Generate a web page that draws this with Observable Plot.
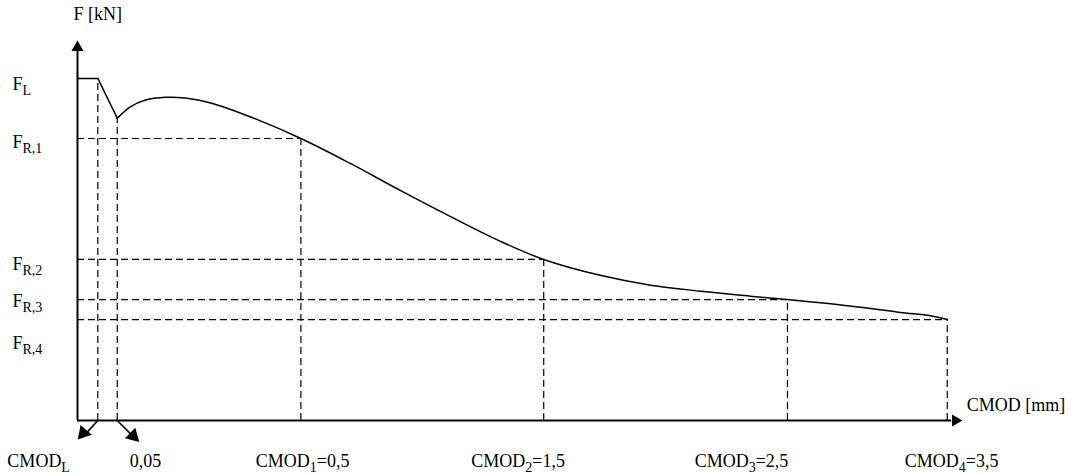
<!DOCTYPE html>
<html>
<head>
<meta charset="utf-8">
<script src="https://cdn.jsdelivr.net/npm/d3@7"></script>
<script src="https://cdn.jsdelivr.net/npm/@observablehq/plot@0.6"></script>
<style>
  html, body { margin: 0; padding: 0; background: white; }
  svg { display: block; }
  svg text { font-family: "Liberation Serif", "Times New Roman", serif !important; }
</style>
</head>
<body>
<div id="chart"></div>
<script>
// Schematic load–CMOD curve (abstract units 0..100 on both axes)
const curveX = [0, 2.3, 4.5, 6.0, 7.7, 10.0, 12.2, 15.1, 19.6, 25.3, 30.9, 36.6, 42.2, 47.9, 52.8, 59.2, 64.9, 70.6, 76.2, 80.4, 87.5, 93.2, 96.6, 98.5];
const curveY = [90.5, 90.5, 80.0, 83.0, 84.8, 85.5, 85.3, 84.0, 80.3, 74.6, 68.0, 60.8, 54.0, 47.4, 42.6, 38.4, 35.8, 34.2, 32.9, 32.0, 30.3, 28.6, 27.7, 26.7];

// Characteristic points
const cmodNames = ["CMOD_{L}", "0,05", "CMOD_{1}=0,5", "CMOD_{2}=1,5", "CMOD_{3}=2,5", "CMOD_{4}=3,5"];
const cmodX = [2.3, 4.5, 25.3, 52.8, 80.4, 98.5];
const cmodF = [90.5, 80.0, 74.6, 42.6, 32.0, 26.7];
const cmodLabelX = [-4.4, 7.7, 25.5, 49.9, 75.2, 99.0];

const forceNames = ["F_{L}", "F_{R,1}", "F_{R,2}", "F_{R,3}", "F_{R,4}"];
const forceY = [90.5, 74.6, 42.6, 32.0, 26.7];
const forceLabelY = [88.9, 73.5, 41.3, 31.5, 20.4];

const curve = curveX.map((x, i) => ({x, y: curveY[i]}));
const pts = cmodX.map((x, i) => ({x, f: cmodF[i], name: cmodNames[i], lx: cmodLabelX[i]}));
const hpts = pts.slice(2);
const flabels = forceNames.map((name, i) => ({name, y: forceLabelY[i]}));

const dash = {stroke: "black", strokeWidth: 1.2, strokeDasharray: "7,4"};
const font = "Liberation Serif";

const chart = Plot.plot({
  width: 1087,
  height: 474,
  marginLeft: 77,
  marginRight: 127,
  marginTop: 42,
  marginBottom: 54,
  x: {domain: [0, 100], axis: null},
  y: {domain: [0, 100], axis: null},
  style: {fontSize: "18px", color: "black", background: "white"},
  marks: [
    // dashed guides
    Plot.ruleX(pts, {x: "x", y1: 0, y2: "f", ...dash}),
    Plot.ruleY(hpts, {y: "f", x1: 0, x2: "x", ...dash}),
    // curve
    Plot.line(curve.slice(0, 3), {x: "x", y: "y", stroke: "black", strokeWidth: 1.5}),
    Plot.line(curve.slice(2), {x: "x", y: "y", stroke: "black", strokeWidth: 1.5, curve: "catmull-rom"}),
    // axes
    Plot.ruleY([0], {x1: 0, x2: 99, stroke: "black", strokeWidth: 2}),
    Plot.ruleX([0], {y1: 0, y2: 98, stroke: "black", strokeWidth: 2}),
    Plot.dot([{x: 0, y: 100}], {x: "x", y: "y", symbol: "triangle", r: 4.5, fill: "black", dy: 5}),
    Plot.dot([{x: 100, y: 0}], {x: "x", y: "y", symbol: "triangle", r: 4.5, fill: "black", dx: -5, rotate: 90}),
    // diagonal pointers to CMOD_L and 0,05
    Plot.link([{x1: 2.3, y1: 0, x2: 0.9, y2: -3.6}, {x1: 4.5, y1: 0, x2: 6.3, y2: -4.2}],
      {x1: "x1", y1: "y1", x2: "x2", y2: "y2", stroke: "black", strokeWidth: 1.6}),
    Plot.dot([{x: 0.1, y: -4.8}], {x: "x", y: "y", symbol: "triangle", r: 5.5, fill: "black", dx: 5, dy: -5.5, rotate: 221}),
    Plot.dot([{x: 6.9, y: -5.5}], {x: "x", y: "y", symbol: "triangle", r: 5.5, fill: "black", dx: -5.3, dy: -5.3, rotate: 135}),
    // labels
    Plot.text(flabels, {x: -7.36, y: "y", text: "name", textAnchor: "start", fill: "black", fontSize: 18, fontFamily: font}),
    Plot.text(pts, {x: "lx", y: -10.8, text: "name", textAnchor: "middle", fill: "black", fontSize: 18, fontFamily: font}),
    Plot.text(["F [kN]"], {x: -0.45, y: 107.4, text: d => d, textAnchor: "start", fill: "black", fontSize: 18, fontFamily: font}),
    Plot.text(["CMOD [mm]"], {x: 100.7, y: 4.0, text: d => d, textAnchor: "start", fill: "black", fontSize: 18, fontFamily: font})
  ]
});

// turn "A_{b}c" into text with a subscript
chart.querySelectorAll("text").forEach(t => {
  const s = t.textContent;
  const m = s.match(/^(.*?)_\{(.*?)\}(.*)$/);
  if (!m) return;
  const ns = "http://www.w3.org/2000/svg";
  while (t.firstChild) t.removeChild(t.firstChild);
  const a = document.createElementNS(ns, "tspan"); a.textContent = m[1]; t.appendChild(a);
  const b = document.createElementNS(ns, "tspan"); b.textContent = m[2];
  b.setAttribute("dy", "5"); b.setAttribute("font-size", "14"); t.appendChild(b);
  if (m[3]) {
    const c = document.createElementNS(ns, "tspan"); c.textContent = m[3];
    c.setAttribute("dy", "-5"); t.appendChild(c);
  }
});

document.getElementById("chart").appendChild(chart);
</script>
</body>
</html>
